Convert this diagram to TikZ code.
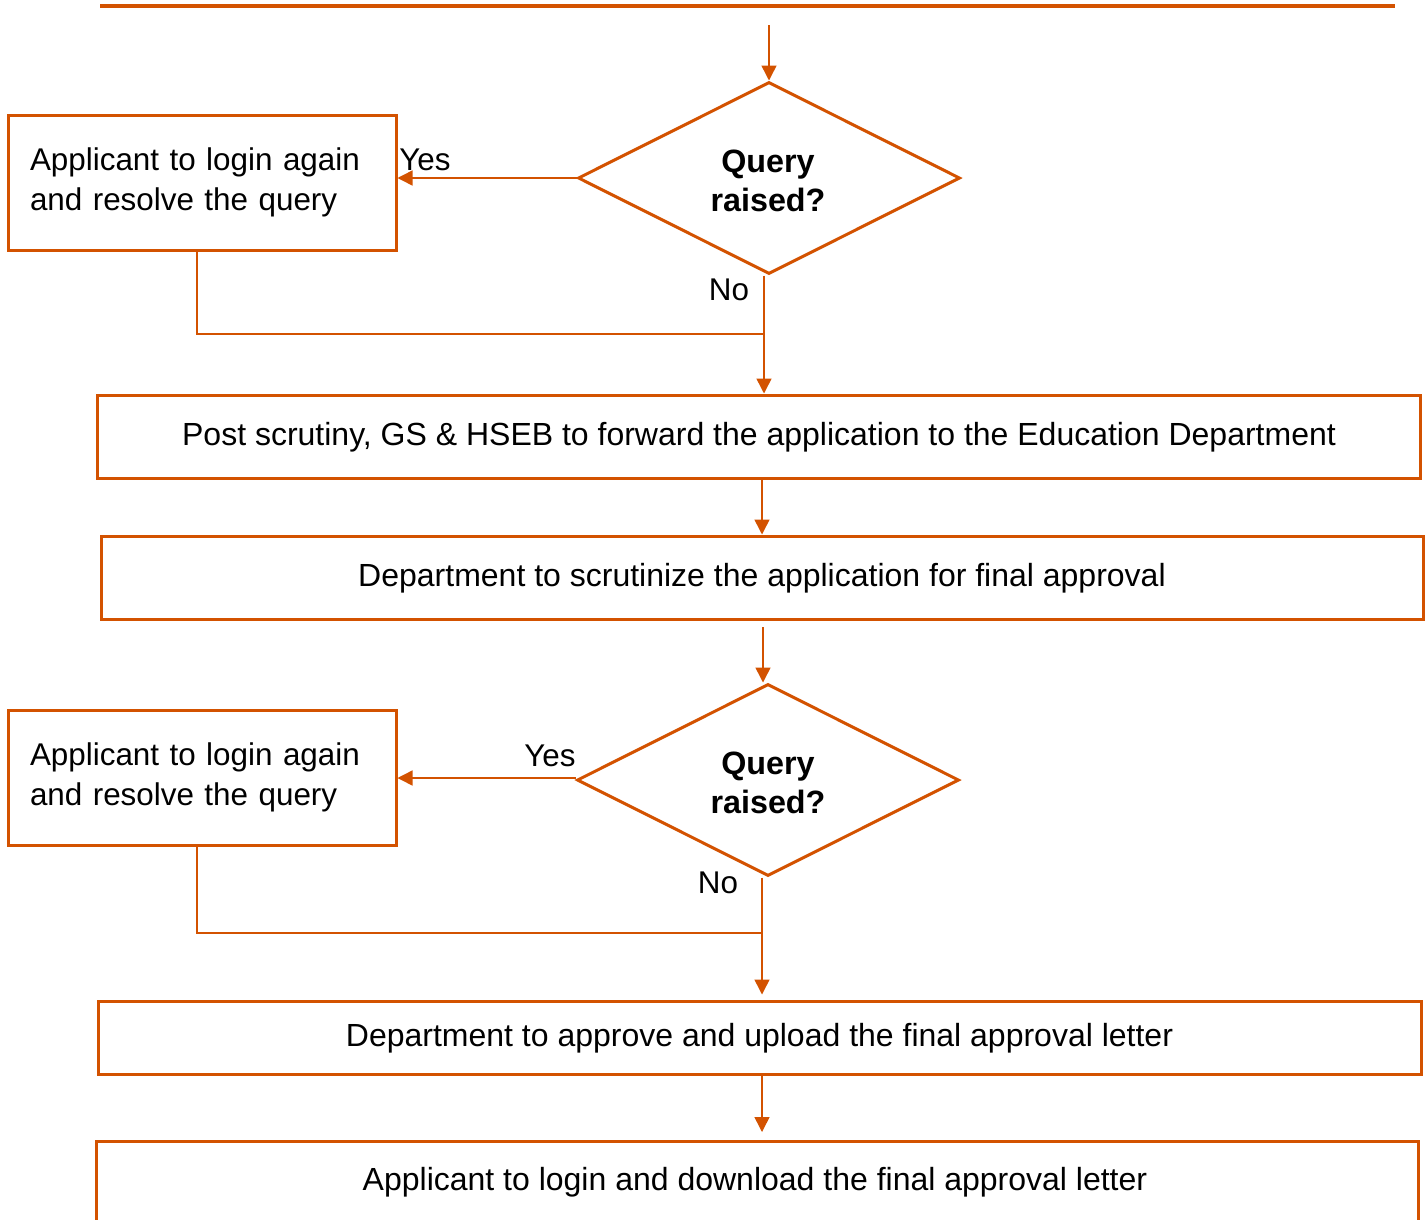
\documentclass[tikz,border=0pt]{standalone}
\usepackage{fontspec}
\setmainfont{Liberation Sans}
\usetikzlibrary{shapes.geometric,arrows.meta,calc}
\definecolor{ora}{RGB}{211,82,0}
\begin{document}
\begin{tikzpicture}[x=1pt,y=-1pt,
  font=\fontsize{32}{40}\selectfont,
  boxnode/.style={draw=ora,line width=3pt,inner sep=0pt,align=center},
  sidebox/.style={draw=ora,line width=3pt,inner sep=0pt,minimum width=388pt,minimum height=135pt,text width=344pt,align=left,font=\fontsize{31.4}{40}\selectfont},
  decide/.style={diamond,draw=ora,line width=3pt,inner sep=0pt,minimum width=382pt,minimum height=192pt,align=center},
  dtext/.style={inner sep=0pt,align=center,font=\fontsize{32.3}{39}\selectfont\bfseries},
  conn/.style={draw=ora,line width=1.5pt},
  arr/.style={conn,-{Triangle[length=15pt,width=15pt]}},
  lbl/.style={inner sep=0pt,font=\fontsize{31.4}{40}\selectfont}]
\useasboundingbox (0,0) rectangle (1425,1219);
\draw[draw=ora,line width=3.5pt] (100,6) -- (1395,6);
\coordinate (start) at (769,25);
% first decision
\node[decide] (d1) at (769,178) {};
\node[dtext] (d1t) at (768,181) {Query\\raised?};
\node[sidebox] (a1) at (202,182.5) {Applicant to login again\\and resolve the query};
\node[boxnode,minimum width=1323pt,minimum height=83pt] (b) at (758.5,436.5) {};
\node[lbl,font=\fontsize{32}{40}\selectfont] (bt) at (759,437.5) {Post scrutiny, GS \& HSEB to forward the application to the Education Department};
\node[boxnode,minimum width=1322pt,minimum height=83pt] (c) at (762,577.5) {};
\node[lbl,font=\fontsize{32}{40}\selectfont] (ct) at (762,578.5) {Department to scrutinize the application for final approval};
% second decision
\node[decide] (d2) at (768,780) {};
\node[dtext] (d2t) at (768,783) {Query\\raised?};
\node[sidebox] (a2) at (202,777.5) {Applicant to login again\\and resolve the query};
\node[boxnode,minimum width=1323pt,minimum height=73pt] (dd) at (759.5,1037.5) {};
\node[lbl,font=\fontsize{32}{40}\selectfont] (ddt) at (759.5,1038) {Department to approve and upload the final approval letter};
\node[boxnode,minimum width=1322pt,minimum height=160pt,anchor=north] (e) at (757,1140) {};
\node[lbl,font=\fontsize{32}{40}\selectfont] (et) at (755,1182) {Applicant to login and download the final approval letter};
% labels
\node[lbl] (y1) at (425,160) {Yes};
\node[lbl] (n1) at (729,290) {No};
\node[lbl] (y2) at (550,756) {Yes};
\node[lbl] (n2) at (718,883) {No};
% connectors
\draw[arr] (start) -- (d1.north);
\draw[arr] (d1.west) -- (d1.west -| a1.east);
\coordinate (j1) at (763,334);
\draw[arr] (d1.south) ++(-5,0) coordinate (d1s) -- (d1s |- b.north);
\draw[conn] ($(a1.south)+(-5,0)$) |- (j1);
\coordinate (bc) at (762,478);
\draw[arr] (b.south -| bc) -- (c.north -| bc);
\coordinate (c2) at (763,627);
\draw[arr] (c2) -- (c2 |- d2.north);
\draw[arr] (d2.west) ++(0,-2) coordinate (d2w) -- (d2w -| a2.east);
\coordinate (j2) at (762,933);
\draw[arr] (d2.south) ++(-6,0) coordinate (d2s) -- ($(d2s |- dd.north)+(0,-5)$);
\draw[conn] ($(a2.south)+(-5,0)$) |- (j2);
\coordinate (dc) at (762,1074);
\draw[arr] (dd.south -| dc) -- ($(e.north -| dc)+(0,-8)$);
\end{tikzpicture}
\end{document}
